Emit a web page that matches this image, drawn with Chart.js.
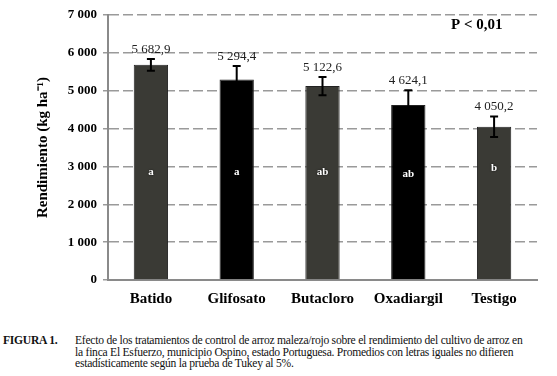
<!DOCTYPE html>
<html><head><meta charset="utf-8">
<script src="https://cdn.jsdelivr.net/npm/chart.js@4"></script>
<style>
body{margin:0;background:#fff;width:557px;height:376px;overflow:hidden;position:relative;font-family:"Liberation Serif","Times New Roman",serif;}
#wrap{position:absolute;left:0;top:0;width:557px;height:322px;}
#cap{position:absolute;left:3px;top:335px;width:552px;font-size:11.6px;line-height:11.5px;color:#111;letter-spacing:-0.25px;white-space:nowrap;}
#cap b{position:absolute;left:0;top:0;}
#cap div{position:absolute;left:72px;top:0;}
</style></head><body>
<div id="wrap"><canvas id="c" width="557" height="322"></canvas></div>
<div id="cap"><b>FIGURA 1.</b><div>Efecto de los tratamientos de control de arroz maleza/rojo sobre el rendimiento del cultivo de arroz en<br>la finca El Esfuerzo, municipio Ospino, estado Portuguesa. Promedios con letras iguales no difieren<br>estadísticamente según la prueba de Tukey al 5%.</div></div>
<script>
const categories = ["Batido","Glifosato","Butacloro","Oxadiargil","Testigo"];
const values = [5682.9, 5294.4, 5122.6, 4624.1, 4050.2];
const valueLabels = ["5 682,9","5 294,4","5 122,6","4 624,1","4 050,2"];
const errors = [155, 360, 240, 390, 270];
const letters = ["a","a","ab","ab","b"];
const letterY = [2850, 2850, 2850, 2800, 2950];
const yTicks = [0,1000,2000,3000,4000,5000,6000,7000];
const barColors = ["#3a3a35","#000000","#3a3a35","#000000","#3a3a35"];
const SERIF = '"Liberation Serif", "Times New Roman", Times, serif';

function fmt(v){return v===0?"0":Math.floor(v/1000)+" "+String(v%1000).padStart(3,"0");}

const overlay = {
  id:"overlay",
  afterDatasetsDraw(chart){
    const ctx=chart.ctx, x=chart.scales.x, y=chart.scales.y;
    ctx.save();
    ctx.strokeStyle="#8a8a8a";ctx.lineWidth=2;ctx.setLineDash([]);
    ctx.beginPath();ctx.moveTo(x.left,y.top);ctx.lineTo(x.left,y.bottom);ctx.stroke();
    values.forEach((v,i)=>{
      const cx=x.getPixelForValue(i);
      const top=y.getPixelForValue(v+errors[i]), bot=y.getPixelForValue(v-errors[i]);
      ctx.strokeStyle="#000";ctx.lineWidth=2;
      ctx.beginPath();ctx.moveTo(cx,top);ctx.lineTo(cx,bot);
      ctx.moveTo(cx-4,top);ctx.lineTo(cx+4,top);
      ctx.moveTo(cx-4,bot);ctx.lineTo(cx+4,bot);ctx.stroke();
      ctx.fillStyle="#222";ctx.font='13px '+SERIF;ctx.textAlign="center";ctx.textBaseline="bottom";
      ctx.fillText(valueLabels[i],cx,top-3);
      ctx.fillStyle="#fff";ctx.font='bold 11px '+SERIF;ctx.textBaseline="middle";
      ctx.shadowColor="rgba(0,0,0,0.8)";ctx.shadowBlur=2;
      ctx.fillText(letters[i],cx,y.getPixelForValue(letterY[i]));
      ctx.shadowBlur=0;
    });
    ctx.fillStyle="#000";ctx.font='bold 15px '+SERIF;ctx.textAlign="left";ctx.textBaseline="middle";
    ctx.fillText("P < 0,01",451,25);
    ctx.restore();
  }
};

new Chart(document.getElementById("c"),{
  type:"bar",
  data:{labels:categories,datasets:[{data:values,backgroundColor:barColors,borderColor:"#222",borderWidth:1,barPercentage:0.8,categoryPercentage:0.5}]},
  options:{
    responsive:false,animation:false,
    layout:{padding:{left:0,right:20,top:15,bottom:0}},
    plugins:{legend:{display:false},tooltip:{enabled:false}},
    scales:{
      x:{
        grid:{display:false,drawTicks:false},
        border:{color:"#8a8a8a",width:2},
        ticks:{color:"#000",font:{family:SERIF,size:15,weight:"bold"},padding:10},
        afterFit(s){s.height=42;}
      },
      y:{
        min:0,max:7000,
        afterBuildTicks(s){s.ticks=yTicks.map(v=>({value:v}));},
        grid:{color:"#9a9a9a",lineWidth:1.5,tickLength:5,drawTicks:true,tickBorderDash:[10,4]},
        border:{color:"#8a8a8a",width:2,dash:[10,4]},
        ticks:{color:"#000",font:{family:SERIF,size:13,weight:"bold"},padding:6,callback:v=>fmt(v)},
        title:{display:true,text:"Rendimiento (kg ha⁻¹)",color:"#000",font:{family:SERIF,size:15,weight:"bold"},padding:{top:34,bottom:0}},
        afterFit(s){s.width=108;}
      }
    }
  },
  plugins:[overlay]
});
</script>
</body></html>
